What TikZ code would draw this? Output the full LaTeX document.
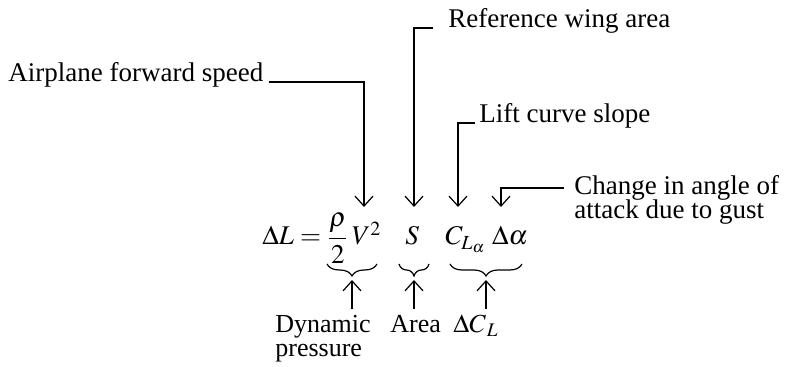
\documentclass[tikz,border=0pt]{standalone}
\usepackage{amsmath}
\usepackage{mathptmx}
\usepackage[no-math]{fontspec}
\setmainfont{Liberation Serif}
\usetikzlibrary{arrows.meta, positioning, calc, decorations.pathreplacing}

\begin{document}
\begin{tikzpicture}[
  x=0.5pt, y=-0.5pt,
  >={Straight Barb[length=5pt, width=9pt]},
  lbl/.style={anchor=base west, inner sep=0pt, font=\fontsize{13.5}{12}\selectfont},
  sublbl/.style={anchor=base west, inner sep=0pt, font=\fontsize{13}{12}\selectfont},
  eq/.style={anchor=base west, inner sep=0pt, font=\fontsize{13.5}{12}\selectfont},
  arr/.style={->, line width=0.6pt},
  brc/.style={decorate, decoration={brace, mirror, amplitude=6pt}, line width=0.6pt},
]

\useasboundingbox (0,0) rectangle (796,367);

% Equation
\node[eq] (lhs) at (262,245) {$\Delta L = \dfrac{\rho}{2}\,V^2$};
\node[eq] (area) at (405,245) {$S$};
\node[eq] (slp) at (445,245) {$C_{L_\alpha}\;\Delta\alpha$};

% Where the arrows point
\coordinate (vtip) at (364,207);
\coordinate (stip) at (414,207);
\coordinate (ctip) at (458,207);
\coordinate (atip) at (501,207);

% Top labels
\node[lbl] (speed) at (8,82) {Airplane forward speed};
\node[lbl] (wing) at (448,28) {Reference wing area};
\node[lbl] (lift) at (479,123) {Lift curve slope};
\node[lbl] (gust) at (574,195) {Change in angle of};
\node[lbl] (gust2) at (574,219) {attack due to gust};

\draw[arr] ([xshift=2.5pt]speed.base east) -| (vtip);
\draw[arr] ([xshift=-7.5pt]wing.base west) -| (stip);
\draw[arr] ([xshift=-2pt]lift.base west) -| (ctip);
\draw[arr] ([xshift=-5pt, yshift=3.5pt]gust.base west) -| (atip);

% Braces
\draw[brc] (327,264) -- (377,264);
\draw[brc] (399,264) -- (429,264);
\draw[brc] (450,264) -- (522,264);
\coordinate (b1) at (352,280);
\coordinate (b2) at (414,280);
\coordinate (b3) at (486,280);

% Bottom labels
\node[sublbl] (dyn) at (275,333) {Dynamic};
\node[sublbl] (press) at (275,357) {pressure};
\node[sublbl] (ar) at (390,333) {Area};
\node[sublbl] (dcl) at (453,333) {$\Delta C_{\,L}$};

\draw[arr, shorten <=3pt] (dyn.north -| b1) -- (b1);
\draw[arr, shorten <=3pt] (ar.north -| b2) -- (b2);
\draw[arr, shorten <=3pt] (dcl.north -| b3) -- (b3);

\end{tikzpicture}
\end{document}
